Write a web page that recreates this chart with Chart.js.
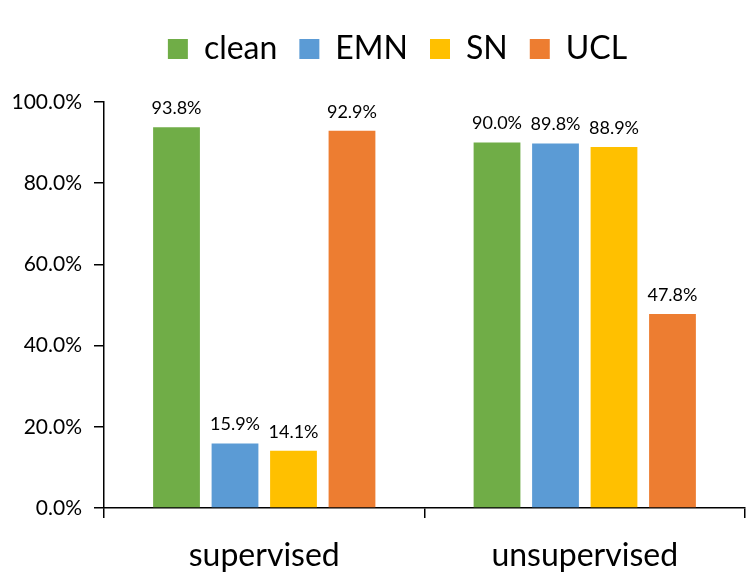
<!DOCTYPE html>
<html><head><meta charset="utf-8">
<script src="https://cdn.jsdelivr.net/npm/chart.js@4/dist/chart.umd.min.js"></script>
<style>html,body{margin:0;padding:0;background:#fff}#wrap{width:752px;height:583px}</style>
</head><body><div id="wrap"><canvas id="c"></canvas></div>
<script>
const categories = ['supervised', 'unsupervised'];
const seriesNames = ['clean', 'EMN', 'SN', 'UCL'];
const clean = [93.8, 90.0];
const emn = [15.9, 89.8];
const sn = [14.1, 88.9];
const ucl = [92.9, 47.8];
const yTicks = [0, 20, 40, 60, 80, 100];
const colors = ['#70AD47', '#5B9BD5', '#FFC000', '#ED7D31'];
const FONT = 'Lato, "Open Sans", sans-serif';

const labelPlugin = {
  id: 'barLabels',
  afterDatasetsDraw(chart) {
    const ctx = chart.ctx;
    ctx.save();
    ctx.font = '18px ' + FONT;
    ctx.fillStyle = '#000';
    ctx.textAlign = 'center';
    ctx.textBaseline = 'bottom';
    chart.data.datasets.forEach((ds, i) => {
      chart.getDatasetMeta(i).data.forEach((bar, j) => {
        ctx.fillText(ds.data[j].toFixed(1) + '%', bar.x, bar.y - 10);
      });
    });
    ctx.restore();
  }
};

const legendMargin = {
  id: 'legendMargin',
  beforeInit(chart) {
    const lg = chart.legend;
    const fit = lg.fit;
    lg.fit = function () { fit.call(lg); this.height += 27; };
    const draw = lg.draw;
    lg.draw = function () {
      const ctx = chart.ctx;
      ctx.save();
      ctx.translate(25, 0);
      draw.call(lg);
      ctx.restore();
    };
  }
};

const seriesData = [clean, emn, sn, ucl];
new Chart(document.getElementById('c'), {
  type: 'bar',
  data: {
    labels: categories,
    datasets: seriesNames.map((n, i) => ({
      label: n, data: seriesData[i], backgroundColor: colors[i],
      categoryPercentage: 0.73, barPercentage: 0.80
    }))
  },
  options: {
    responsive: true, maintainAspectRatio: false, animation: false,
    layout: { padding: { left: 0, right: 7, top: 11, bottom: 0 } },
    plugins: {
      legend: {
        position: 'top',
        labels: { font: { size: 32, family: FONT }, color: '#000', boxWidth: 20, boxHeight: 20, padding: 22 }
      },
      tooltip: { enabled: false }
    },
    scales: {
      x: {
        offset: true,
        afterFit(scale) { scale.height = 75; },
        grid: { display: true, drawOnChartArea: false, drawTicks: true, tickLength: 10, offset: true, color: '#000', lineWidth: 1.5 },
        border: { display: true, color: '#000', width: 1.5 },
        ticks: { font: { size: 32, family: FONT }, color: '#000', padding: 18 }
      },
      y: {
        min: 0, max: 100,
        afterFit(scale) { scale.width = 104; },
        afterBuildTicks(scale) { scale.ticks = yTicks.map(v => ({ value: v })); },
        grid: { display: true, drawOnChartArea: false, drawTicks: true, tickLength: 10, color: '#000', lineWidth: 1.5 },
        border: { display: true, color: '#000', width: 1.5 },
        ticks: { font: { size: 21, family: FONT }, color: '#000', padding: 12, callback: v => v.toFixed(1) + '%' }
      }
    }
  },
  plugins: [labelPlugin, legendMargin]
});
</script></body></html>
